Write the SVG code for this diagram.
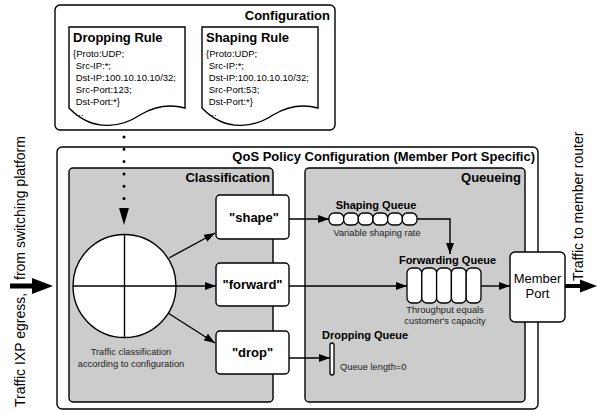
<svg xmlns="http://www.w3.org/2000/svg" width="597" height="411" viewBox="0 0 597 411">
<defs>
<style>
text{font-family:"Liberation Sans",Arial,sans-serif;fill:#000}
.box{fill:#fff;stroke:#000;stroke-width:1.4}
.gray{fill:#cccccc;stroke:#000;stroke-width:1.4}
.h{font-weight:bold;font-size:13px}
.hs{font-weight:bold;font-size:11px}
.r{font-size:9.5px}
.s{font-size:9.3px;fill:#222}
.act{font-weight:bold;font-size:13px;text-anchor:middle}
.cell{fill:#fff;stroke:#000;stroke-width:1.3}
.ln{fill:none;stroke:#000;stroke-width:1.4}
.side{font-size:14px}
</style>
<marker id="ah" markerWidth="11" markerHeight="8" refX="11" refY="4" orient="auto" markerUnits="userSpaceOnUse">
<path d="M0,0 L11,4 L0,8 z" fill="#000"/>
</marker>
</defs>
<rect width="597" height="411" fill="#fff"/>

<g id="configuration">
<rect class="box" x="55" y="5" width="280" height="125" rx="5"/>
<text class="h" x="330" y="20" text-anchor="end">Configuration</text>
</g>

<g id="dropping-rule">
<path class="box" d="M69,27 H185 V108 C170,104 155,106 140,115 C125,125 95,135 69,108 Z"/>
<text class="h" x="73" y="42">Dropping Rule</text>
<text class="r" x="73" y="57">{Proto:UDP;</text>
<text class="r" x="73" y="69" xml:space="preserve"> Src-IP:*;</text>
<text class="r" x="73" y="81" xml:space="preserve"> Dst-IP:100.10.10.10/32;</text>
<text class="r" x="73" y="93" xml:space="preserve"> Src-Port:123;</text>
<text class="r" x="73" y="105" xml:space="preserve"> Dst-Port:*}</text>
<text class="r" x="73" y="116" xml:space="preserve"> ...</text>
</g>

<g id="shaping-rule">
<path class="box" d="M202,27 H318 V108 C303,104 288,106 273,115 C258,125 228,135 202,108 Z"/>
<text class="h" x="206" y="42">Shaping Rule</text>
<text class="r" x="206" y="57">{Proto:UDP;</text>
<text class="r" x="206" y="69" xml:space="preserve"> Src-IP:*;</text>
<text class="r" x="206" y="81" xml:space="preserve"> Dst-IP:100.10.10.10/32;</text>
<text class="r" x="206" y="93" xml:space="preserve"> Src-Port:53;</text>
<text class="r" x="206" y="105" xml:space="preserve"> Dst-Port:*}</text>
<text class="r" x="206" y="116" xml:space="preserve"> ...</text>
</g>

<g id="qos-policy">
<rect class="box" x="57" y="147" width="481" height="262" rx="5"/>
<text class="h" x="535" y="161" text-anchor="end">QoS Policy Configuration (Member Port Specific)</text>
</g>

<g id="classification">
<rect class="gray" x="69" y="168" width="204" height="234" rx="4"/>
<text class="h" x="270" y="182" text-anchor="end">Classification</text>
</g>

<g id="queueing">
<rect class="gray" x="305" y="168" width="220" height="234" rx="4"/>
<text class="h" x="521" y="182" text-anchor="end">Queueing</text>
</g>

<g id="classifier">
<circle cx="124.5" cy="286" r="51.5" fill="#fff" stroke="#000" stroke-width="1.4"/>
<line class="ln" x1="124.5" y1="234.5" x2="124.5" y2="337.5"/>
<line class="ln" x1="73" y1="286" x2="176" y2="286"/>
<text class="s" x="131" y="355" text-anchor="middle">Traffic classification</text>
<text class="s" x="131" y="367" text-anchor="middle">according to configuration</text>
</g>

<g id="connectors">
<path d="M124,137 V199" fill="none" stroke="#000" stroke-width="3" stroke-linecap="round" stroke-dasharray="0 12.3"/>
<path d="M119,208 L129,208 L124,225 z" fill="#000"/>
<line class="ln" x1="169" y1="258" x2="215" y2="233" marker-end="url(#ah)"/>
<line class="ln" x1="176" y1="286" x2="216" y2="286" marker-end="url(#ah)"/>
<line class="ln" x1="168" y1="313" x2="215" y2="343" marker-end="url(#ah)"/>
<line class="ln" x1="289" y1="219" x2="329" y2="219" marker-end="url(#ah)"/>
<path class="ln" d="M417,219 H450 V254" marker-end="url(#ah)"/>
<line class="ln" x1="289" y1="286" x2="407" y2="286" marker-end="url(#ah)"/>
<line class="ln" x1="481" y1="286" x2="510" y2="286" marker-end="url(#ah)"/>
<line class="ln" x1="289" y1="358" x2="330" y2="358" marker-end="url(#ah)"/>
<line x1="10" y1="286" x2="33" y2="286" stroke="#000" stroke-width="5"/>
<path d="M32,278 L53,286 L32,294 z" fill="#000"/>
<line x1="565" y1="286" x2="581" y2="286" stroke="#000" stroke-width="4"/>
<path d="M580,279.5 L597,286 L580,292.5 z" fill="#000"/>
</g>

<g id="shape">
<rect class="box" x="216" y="195" width="73" height="44" rx="4"/>
<text class="act" x="254" y="222">"shape"</text>
</g>

<g id="forward">
<rect class="box" x="216" y="263" width="73" height="43" rx="4"/>
<text class="act" x="252.5" y="289">"forward"</text>
</g>

<g id="drop">
<rect class="box" x="216" y="331" width="73" height="43" rx="4"/>
<text class="act" x="252.5" y="357">"drop"</text>
</g>

<g id="shaping-queue">
<text class="hs" x="376" y="209" text-anchor="middle">Shaping Queue</text>
<rect class="cell" x="329" y="213" width="14.67" height="12" rx="5"/>
<rect class="cell" x="343.67" y="213" width="14.67" height="12" rx="5"/>
<rect class="cell" x="358.33" y="213" width="14.67" height="12" rx="5"/>
<rect class="cell" x="373" y="213" width="14.67" height="12" rx="5"/>
<rect class="cell" x="387.67" y="213" width="14.67" height="12" rx="5"/>
<rect class="cell" x="402.33" y="213" width="14.67" height="12" rx="5"/>
<text class="s" x="377" y="236" text-anchor="middle">Variable shaping rate</text>
</g>

<g id="forwarding-queue">
<text class="hs" x="447.5" y="264" text-anchor="middle">Forwarding Queue</text>
<rect class="cell" x="407" y="268" width="14.8" height="35" rx="5"/>
<rect class="cell" x="421.8" y="268" width="14.8" height="35" rx="5"/>
<rect class="cell" x="436.6" y="268" width="14.8" height="35" rx="5"/>
<rect class="cell" x="451.4" y="268" width="14.8" height="35" rx="5"/>
<rect class="cell" x="466.2" y="268" width="14.8" height="35" rx="5"/>
<text class="s" x="445" y="313" text-anchor="middle">Throughput equals</text>
<text class="s" x="445" y="324" text-anchor="middle">customer's capacity</text>
</g>

<g id="dropping-queue">
<text class="hs" x="322" y="339">Dropping Queue</text>
<rect class="cell" x="330" y="343" width="4" height="32" rx="2"/>
<text class="s" x="340" y="370">Queue length=0</text>
</g>

<g id="member-port">
<rect class="box" x="510" y="252" width="55" height="70" rx="5"/>
<text x="537.5" y="283" font-size="13" text-anchor="middle">Member</text>
<text x="537.5" y="298" font-size="13" text-anchor="middle">Port</text>
</g>

<g id="side-labels">
<text class="side" transform="translate(25,407) rotate(-90)">Traffic IXP egress,</text>
<text class="side" transform="translate(25,280) rotate(-90)">from switching platform</text>
<text class="side" transform="translate(583,281) rotate(-90)">Traffic to member router</text>
</g>
</svg>
